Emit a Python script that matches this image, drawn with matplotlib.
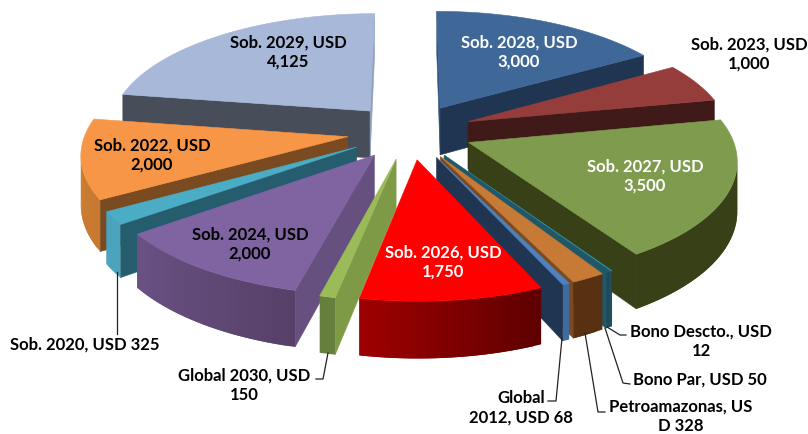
#!/usr/bin/env python3

import numpy as np
import matplotlib
matplotlib.use('Agg')
import matplotlib.pyplot as plt
from matplotlib.colors import to_rgb

names = ['Sob. 2028', 'Sob. 2023', 'Sob. 2027', 'Bono Descto.', 'Bono Par', 'Petroamazonas',
         'Global 2012', 'Sob. 2026', 'Global 2030', 'Sob. 2024', 'Sob. 2020', 'Sob. 2022', 'Sob. 2029']
values = [3000, 1000, 3500, 12, 50, 328, 68, 1750, 150, 2000, 325, 2000, 4125]

top_colors = ['#3f6899', '#953d3b', '#7f9b4d', '#2f8fa8', '#215868', '#c77936', '#4f81bd',
              '#ff0000', '#9bbb59', '#8064a2', '#4bacc6', '#f79646', '#a8b8d8']
wall_colors = ['#1f3552', '#401a18', '#374017', '#215868', '#215868', '#7a4b20', '#1f3552',
               '#7d0000', '#7f9a47', '#66507f', '#265d6e', '#7a4b20', '#474d59']
outer_left = ['#2b4a70', '#5c2523', '#374017', '#1f4a58', '#1f4a58', '#583113', '#3f6b9e',
              '#a00000', '#677f3c', '#6a5285', '#4ba3bd', '#d08038', '#5a6478']
outer_right = ['#1f3552', '#401a18', '#374017', '#1f4a58', '#1f4a58', '#583113', '#3f6b9e',
               '#5f0000', '#677f3c', '#574169', '#4ba3bd', '#c87a30', '#474d59']
# thin near-vertical walls either side of the top gap
sliver_colors = {0: '#2f5480', 12: '#8f9fbf'}

# projection of the pie plane
CX, CY = 410, 131.5
SX, SY = 262, 115
K = 0.13
EXPLODE = 0.24
DEPTH = 48


def project(u, v, z=0.0):
    w = 1 / (1 + K * np.asarray(v))
    return CX + SX * np.asarray(u) * w, CY - SY * np.asarray(v) * w + DEPTH * z * w


def signed_area(xs, ys):
    xs, ys = np.asarray(xs), np.asarray(ys)
    return 0.5 * np.sum(xs * np.roll(ys, -1) - np.roll(xs, -1) * ys)


def mix(c1, c2, t):
    a, b = np.array(to_rgb(c1)), np.array(to_rgb(c2))
    return tuple(a + (b - a) * t)


def solid(ax, xs, ys, color, lw=0.4):
    ax.fill(xs, ys, facecolor=color, edgecolor=color, linewidth=lw)


fig = plt.figure(figsize=(8.08, 4.34), dpi=100)
ax = fig.add_axes([0, 0, 1, 1])
ax.set_xlim(0, 808)
ax.set_ylim(434, 0)
ax.axis('off')

edges = np.concatenate([[0], np.cumsum(values)]) / np.sum(values) * 2 * np.pi

wedges = []
for i in range(len(values)):
    mid = (edges[i] + edges[i + 1]) / 2
    wedges.append((EXPLODE * np.sin(mid), EXPLODE * np.cos(mid), i))

# far pieces first so nearer ones paint over them
for ou, ov, i in sorted(wedges, key=lambda p: -p[1]):
    n = max(int(np.degrees(edges[i + 1] - edges[i]) / 1.5), 1)
    th = np.linspace(edges[i], edges[i + 1], n + 1)
    u = ou + np.sin(th)
    v = ov + np.cos(th)

    # radial walls, only where they face the viewer
    for ue, ve, sign, ang in [(u[0], v[0], -1, th[0]), (u[-1], v[-1], 1, th[-1])]:
        xa, ya = project([ou, ue], [ov, ve])
        xb, yb = project([ue, ou], [ve, ov], 1.0)
        qx, qy = np.concatenate([xa, xb]), np.concatenate([ya, yb])
        if sign * signed_area(qx, qy) > 0:
            color = wall_colors[i]
            if i in sliver_colors and abs(np.sin(ang)) < 0.01:
                color = sliver_colors[i]
            solid(ax, qx, qy, color)

    # outer wall, shaded from left to right; quads overlap so no seams show
    for j in range(n):
        j2 = min(j + 3, n + 1)
        xa, ya = project(u[j:j + 2], v[j:j + 2])
        xb, yb = project(u[j:j + 2][::-1], v[j:j + 2][::-1], 1.0)
        if signed_area(np.concatenate([xa, xb]), np.concatenate([ya, yb])) < 0:
            xa, ya = project(u[j:j2], v[j:j2])
            xb, yb = project(u[j:j2][::-1], v[j:j2][::-1], 1.0)
            t = 1 - (th[j] - edges[i]) / max(edges[i + 1] - edges[i], 1e-6)
            solid(ax, np.concatenate([xa, xb]), np.concatenate([ya, yb]),
                  mix(outer_left[i], outer_right[i], t), lw=0)

    tx, ty = project(np.concatenate([[ou], u]), np.concatenate([[ov], v]))
    solid(ax, tx, ty, top_colors[i])

labels = [
    ('Sob. 2028, USD\n3,000', 519, 52, 'white'),
    ('Sob. 2023, USD\n1,000', 749, 54, 'black'),
    ('Sob. 2027, USD\n3,500', 645, 176, 'white'),
    ('Bono Descto., USD\n12', 701, 341, 'black'),
    ('Bono Par, USD 50', 700, 380, 'black'),
    ('Petroamazonas, US\nD 328', 681, 416, 'black'),
    ('Global\n2012, USD 68', 521, 408, 'black'),
    ('Sob. 2026, USD\n1,750', 443, 262, 'white'),
    ('Global 2030, USD\n150', 244, 385, 'black'),
    ('Sob. 2024, USD\n2,000', 250, 244, 'black'),
    ('Sob. 2020, USD 325', 85, 345, 'black'),
    ('Sob. 2022, USD\n2,000', 152, 155, 'black'),
    ('Sob. 2029, USD\n4,125', 288, 52, 'black'),
]
for text, x, y, color in labels:
    ax.text(x, y, text, color=color, ha='center', va='center', family='Lato', weight='bold',
            fontsize=12, linespacing=1.28)

leaders = [
    ([607, 620, 626], [327, 335, 335]),
    ([605, 623, 630], [328, 383, 384]),
    ([585, 598, 605], [333, 412, 412]),
    ([562, 556, 548], [338, 401, 401]),
    ([328, 323, 316], [353, 379, 379]),
    ([117, 117], [272, 334]),
]
for lx, ly in leaders:
    ax.plot(lx, ly, color='#222222', linewidth=0.9)

plt.savefig('out.png', dpi=100)
plt.close(fig)
